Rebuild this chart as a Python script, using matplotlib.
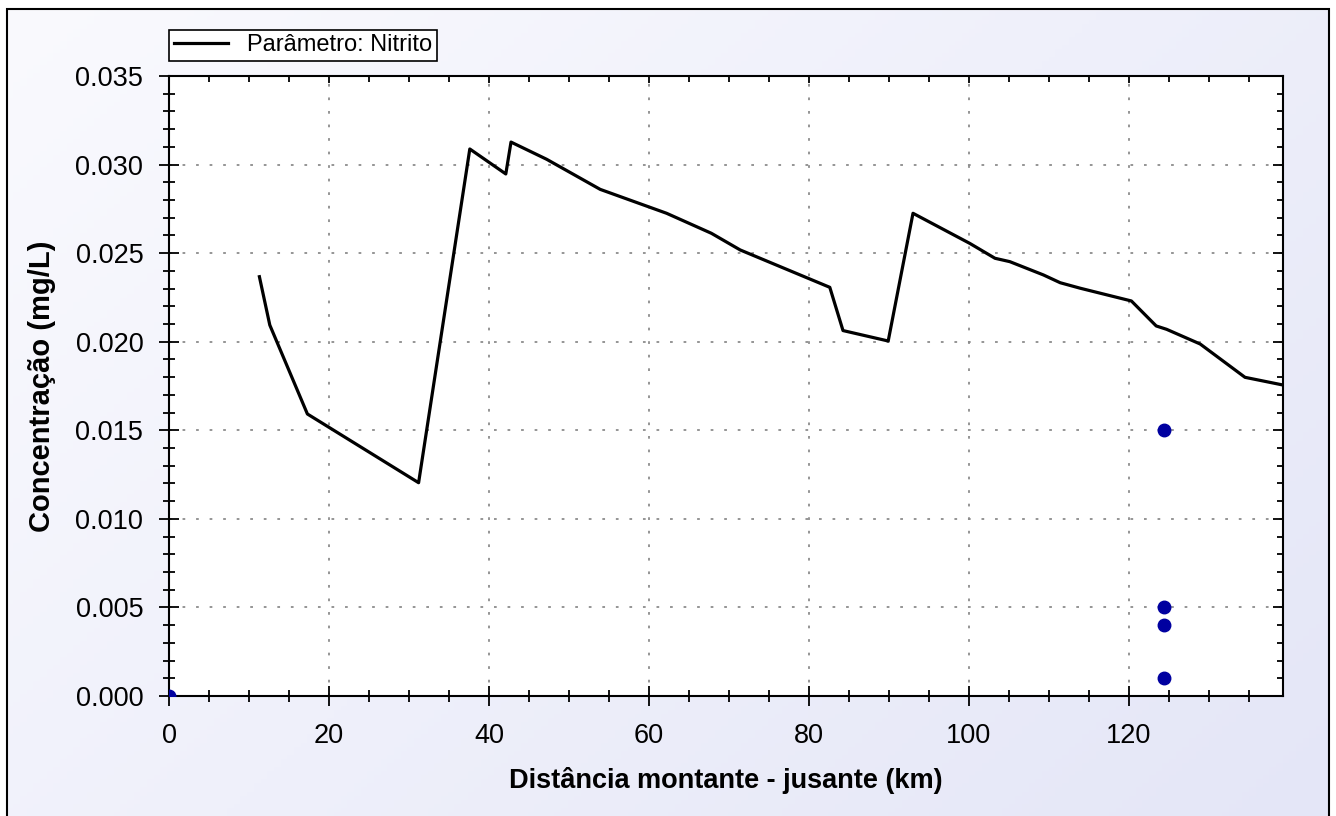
import matplotlib
matplotlib.use("Agg")
import matplotlib.pyplot as plt
import numpy as np
from matplotlib.patches import Rectangle
from matplotlib.ticker import MultipleLocator, FormatStrFormatter

plt.rcParams['font.family'] = ['Liberation Sans', 'DejaVu Sans']

# Simulated profile (distance km, concentration mg/L)
dist_km = [11.3, 12.6, 17.3, 31.2, 37.6, 42.1, 42.75, 47.2, 53.9, 62.2, 67.8,
           71.4, 82.6, 84.25, 89.9, 93.0, 100.1, 103.25, 105.1, 109.3, 111.4,
           113.9, 120.3, 123.4, 124.7, 128.9, 134.5, 139.2]
conc_mgL = [0.02367, 0.02094, 0.01592, 0.01204, 0.03088, 0.02947, 0.03127,
            0.03030, 0.02860, 0.02725, 0.02612, 0.02518, 0.02307, 0.02063,
            0.02004, 0.02725, 0.02555, 0.02471, 0.02452, 0.02377, 0.02333,
            0.02302, 0.02230, 0.02089, 0.02070, 0.01987, 0.01799, 0.01756]

# Observed values
obs_km = [0.0, 124.4, 124.4, 124.4, 124.4]
obs_mgL = [0.0, 0.0150, 0.0050, 0.0040, 0.0010]

legend_label = "Parâmetro: Nitrito"
xlabel = "Distância montante - jusante (km)"
ylabel = "Concentração (mg/L)"

W, H = 1336, 816
fig = plt.figure(figsize=(W / 100, H / 100), dpi=100)

# background gradient
bg = fig.add_axes([0, 0, 1, 1], zorder=-10)
yy, xx = np.mgrid[0:1:200j, 0:1:200j]
t = (xx * 0.6 + yy * 0.4)
c0 = np.array([250, 250, 254]) / 255
c1 = np.array([228, 230, 247]) / 255
img = c0[None, None, :] * (1 - t[..., None]) + c1[None, None, :] * t[..., None]
bg.imshow(img, extent=[0, 1, 0, 1], aspect='auto', origin='upper')
bg.set_xlim(0, 1)
bg.set_ylim(0, 1)
bg.axis('off')
# white margin outside border
bg.add_patch(Rectangle((0, 0), 7 / W, 1, color='white', transform=bg.transAxes, zorder=1))
bg.add_patch(Rectangle((0, 1 - 9 / H), 1, 9 / H, color='white', transform=bg.transAxes, zorder=1))
bg.add_patch(Rectangle((1329 / W, 0), 1 - 1329 / W, 1, color='white', transform=bg.transAxes, zorder=1))
bg.add_patch(Rectangle((7 / W, -0.01), (1329 - 7) / W, 1 - 9 / H + 0.01, fill=False,
                       edgecolor='black', lw=1.5, transform=bg.transAxes, zorder=2))

left, right, top, bottom = 169, 1283, 76, 696
ax = fig.add_axes([left / W, 1 - bottom / H, (right - left) / W, (bottom - top) / H])
ax.set_facecolor('white')

ax.plot(dist_km, conc_mgL, color='black', lw=2.3, label=legend_label, zorder=3)
ax.plot(obs_km, obs_mgL, linestyle='none', marker='o', markersize=9,
        color='#0000a0', zorder=4)

ax.set_xlim(0, 139.25)
ax.set_ylim(0, 0.035)
ax.xaxis.set_major_locator(MultipleLocator(20))
ax.xaxis.set_minor_locator(MultipleLocator(5))
ax.yaxis.set_major_locator(MultipleLocator(0.005))
ax.yaxis.set_minor_locator(MultipleLocator(0.001))
ax.yaxis.set_major_formatter(FormatStrFormatter('%.3f'))

ax.grid(True, which='major', linestyle=(0, (1.5, 6)), color='#8c8c8c', lw=1.3)
for s in ax.spines.values():
    s.set_linewidth(1.5)
    s.set_color('black')

ax.tick_params(axis='both', which='major', direction='inout', length=15, width=1.3,
               labelsize=19.5, colors='black')
ax.tick_params(axis='both', which='minor', direction='inout', length=8, width=1.3)
ax.tick_params(axis='y', which='major', pad=11)
ax.tick_params(axis='x', which='major', pad=12)

# inward ticks on top and right
axt = ax.twiny()
axt.set_xlim(ax.get_xlim())
axt.xaxis.set_major_locator(MultipleLocator(20))
axt.xaxis.set_minor_locator(MultipleLocator(5))
axt.tick_params(axis='x', which='major', direction='in', length=5, width=1.3, labeltop=False)
axt.tick_params(axis='x', which='minor', direction='in', length=4, width=1.3)
axr = ax.twinx()
axr.set_ylim(ax.get_ylim())
axr.yaxis.set_major_locator(MultipleLocator(0.005))
axr.yaxis.set_minor_locator(MultipleLocator(0.001))
axr.tick_params(axis='y', which='major', direction='in', length=7, width=1.3, labelright=False)
axr.tick_params(axis='y', which='minor', direction='in', length=4, width=1.3)
for a in (axt, axr):
    for s in a.spines.values():
        s.set_visible(False)

fig.text((left + right) / 2 / W, 1 - 781 / H, xlabel, ha='center', va='center',
         fontsize=19.5, fontweight='bold')
fig.text(42 / W, 1 - 386 / H, ylabel, ha='center', va='center', rotation=90,
         fontsize=21, fontweight='bold')

leg = ax.legend(loc='lower left', bbox_to_anchor=(169 / W, 1 - 61 / H),
                bbox_transform=fig.transFigure, fontsize=17, frameon=True,
                fancybox=False, edgecolor='black', framealpha=1, borderpad=0.2,
                handlelength=2.3, handletextpad=0.8, borderaxespad=0)
leg.get_frame().set_linewidth(1.2)
leg.set_zorder(10)

fig.savefig('out.png', dpi=100)
